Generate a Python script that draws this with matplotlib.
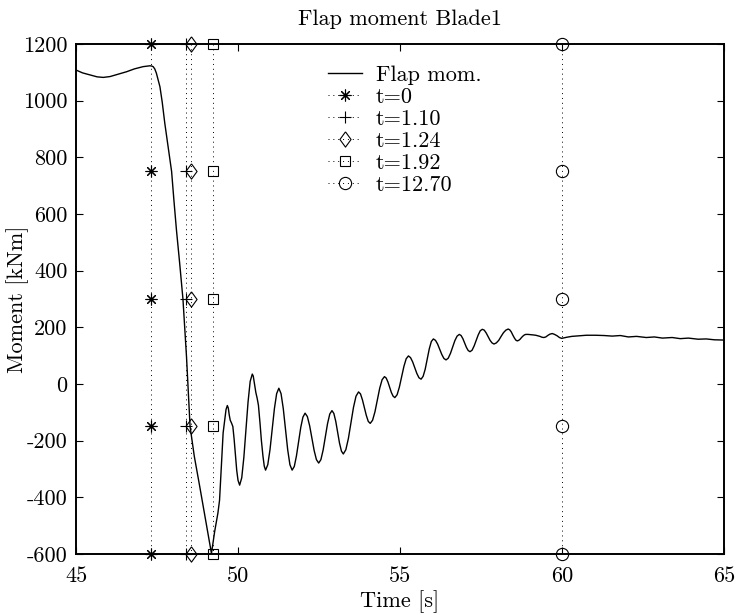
import matplotlib
matplotlib.use("Agg")
import matplotlib.pyplot as plt

# ---------------- data ----------------
time = [45.00, 45.20, 45.43, 45.65, 45.84, 46.05, 46.20, 46.40, 46.56, 46.80,
        47.07, 47.20, 47.28, 47.34, 47.38, 47.43, 47.48, 47.53, 47.59, 47.66,
        47.74, 47.84, 47.95, 48.02, 48.10, 48.20, 48.30, 48.41, 48.52, 48.65,
        48.82, 49.00, 49.18, 49.28, 49.38, 49.43, 49.49, 49.54, 49.59, 49.63,
        49.67, 49.70, 49.73, 49.76, 49.80, 49.84, 49.88, 49.92, 49.96, 50.00,
        50.05, 50.115, 50.18, 50.245, 50.31, 50.375, 50.44, 50.47, 50.51, 50.55,
        50.59, 50.63, 50.68, 50.72, 50.77, 50.81, 50.85,
        50.918, 50.987, 51.055, 51.123, 51.192, 51.26,
        51.328, 51.397, 51.465, 51.533, 51.602, 51.67,
        51.737, 51.803, 51.87, 51.937, 52.003, 52.07,
        52.14, 52.21, 52.28, 52.35, 52.42, 52.49,
        52.558, 52.627, 52.695, 52.763, 52.832, 52.90,
        52.958, 53.017, 53.075, 53.133, 53.192, 53.25,
        53.328, 53.407, 53.485, 53.563, 53.642, 53.72,
        53.78, 53.84, 53.90, 53.96, 54.02, 54.08,
        54.153, 54.227, 54.30, 54.373, 54.447, 54.52,
        54.573, 54.627, 54.68, 54.733, 54.787, 54.84,
        54.91, 54.98, 55.05, 55.12, 55.19, 55.26,
        55.325, 55.39, 55.455, 55.52, 55.585, 55.65,
        55.713, 55.777, 55.84, 55.903, 55.967, 56.03,
        56.095, 56.16, 56.225, 56.29, 56.355, 56.42,
        56.488, 56.557, 56.625, 56.693, 56.762, 56.83,
        56.885, 56.94, 56.995, 57.05, 57.105, 57.16,
        57.223, 57.287, 57.35, 57.413, 57.477, 57.54,
        57.60, 57.66, 57.72, 57.78, 57.84, 57.90,
        57.973, 58.047, 58.12, 58.193, 58.267, 58.34,
        58.387, 58.433, 58.48, 58.527, 58.573, 58.62,
        58.663, 58.707, 58.75, 58.793, 58.837, 58.88,
        58.95, 59.05, 59.12, 59.19, 59.26, 59.32, 59.38, 59.44, 59.50, 59.57,
        59.63, 59.70, 59.77, 59.85, 59.92, 59.99, 60.07, 60.15, 60.30, 60.52,
        60.75, 61.04, 61.30, 61.55, 61.80, 62.05, 62.30, 62.60, 62.85, 63.10,
        63.40, 63.65, 63.90, 64.20, 64.45, 64.70, 65.00]
moment = [1108, 1098, 1091, 1084, 1082, 1085, 1090, 1097, 1102, 1112,
          1120, 1122, 1123, 1122, 1120, 1112, 1097, 1075, 1049, 995,
          920, 840, 750, 650, 543, 425, 300, 96, -150, -255,
          -363, -480, -598, -520, -455, -410, -280, -173, -127, -90,
          -76, -85, -110, -128, -138, -150, -195, -250, -305, -340,
          -357, -331, -259, -161, -63, 9, 35, 28, 0, -30,
          -50, -75, -140, -198, -255, -290, -304,
          -285, -232, -159, -87, -34, -15,
          -34, -87, -159, -232, -285, -304,
          -291, -254, -204, -153, -117, -103,
          -115, -147, -191, -235, -267, -279,
          -267, -233, -187, -140, -106, -94,
          -104, -132, -171, -209, -237, -247,
          -232, -192, -138, -83, -43, -28,
          -35, -56, -84, -111, -132, -139,
          -128, -98, -57, -15, 15, 26,
          21, 7, -11, -30, -43, -48,
          -38, -11, 26, 62, 89, 99,
          93, 78, 58, 37, 22, 17,
          27, 52, 88, 124, 150, 159,
          154, 141, 122, 104, 90, 85,
          91, 108, 130, 153, 169, 175,
          171, 160, 145, 129, 118, 114,
          119, 134, 154, 173, 188, 193,
          190, 180, 167, 154, 145, 141,
          145, 154, 168, 181, 190, 194,
          191, 184, 173, 163, 155, 152,
          154, 158, 164, 169, 173, 175,
          175, 174, 173, 172, 170, 168, 165, 164, 166, 172,
          176, 178, 175, 170, 164, 161, 163, 165, 168, 170,
          172, 172, 171, 169, 171, 166, 168, 164, 166, 162,
          164, 160, 162, 158, 159, 156, 155]

event_labels = ["t=0", "t=1.10", "t=1.24", "t=1.92", "t=12.70"]
event_times = [47.30, 48.40, 48.54, 49.22, 60.00]
marker_levels = [1200, 750, 300, -150, -600]
xticks = [45, 50, 55, 60, 65]
yticks = [-600, -400, -200, 0, 200, 400, 600, 800, 1000, 1200]

# ---------------- style ----------------
plt.rcParams["font.family"] = ["cmr10", "DejaVu Serif"]
plt.rcParams["axes.unicode_minus"] = False
plt.rcParams["font.size"] = 16

diamond = [(0, 1), (0.73, 0), (0, -1), (-0.73, 0), (0, 1)]
markers = [(8, 2, 0), "+", diamond, "s", "o"]
msizes = [8.5, 9, 11, 7.5, 8.8]

fig = plt.figure(figsize=(7.36, 6.15), dpi=100)
ax = fig.add_axes([0.1033, 0.0992, 0.8804, 0.8293])

ax.plot(time, moment, color="black", lw=1.0, label="Flap mom.")
for lab, t, mk, ms in zip(event_labels, event_times, markers, msizes):
    ax.plot([t] * len(marker_levels), marker_levels, color="black",
            linestyle=(0, (1, 4)), lw=0.7, marker=mk, markersize=ms,
            markerfacecolor="none", markeredgecolor="black",
            markeredgewidth=0.8, label=lab, clip_on=False)

ax.set_xlim(45, 65)
ax.set_ylim(-600, 1200)
ax.set_xticks(xticks)
ax.set_yticks(yticks)
ax.tick_params(direction="in", top=True, right=True, length=5, width=0.8,
               labelsize=16)
ax.tick_params(axis="x", pad=9)
ax.tick_params(axis="y", pad=6)
for sp in ax.spines.values():
    sp.set_linewidth(1.4)

ax.set_title("Flap moment Blade1", fontsize=16, pad=14)
ax.set_xlabel("Time [s]", fontsize=16, labelpad=3)
ax.set_ylabel("Moment [kNm]", fontsize=16)
ax.yaxis.set_label_coords(-0.073, 0.5)

ax.legend(loc="upper left", bbox_to_anchor=(0.375, 0.975), frameon=False,
          fontsize=16, handlelength=1.55, handletextpad=0.6, labelspacing=0.11,
          borderaxespad=0.0)

fig.savefig("out.png", dpi=100)
